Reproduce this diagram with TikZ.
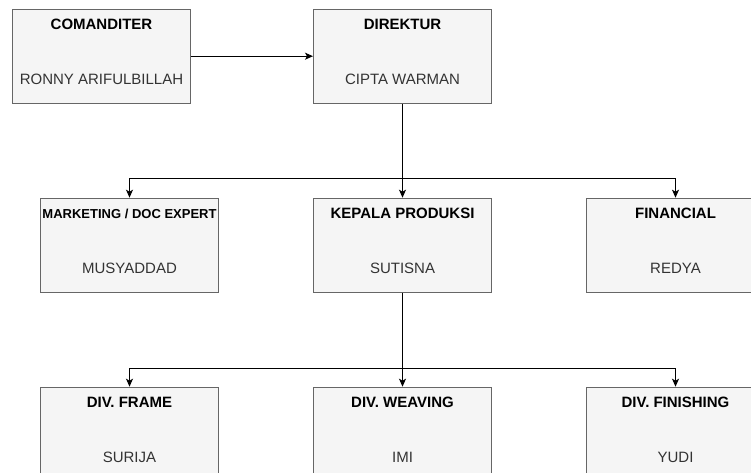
\documentclass[tikz,border=0pt]{standalone}
\usepackage{fontspec}
\setmainfont{Liberation Sans}
\usepackage{xcolor}
\usetikzlibrary{arrows.meta,positioning,calc}
\definecolor{boxfill}{HTML}{F5F5F5}
\definecolor{boxline}{HTML}{666666}
\definecolor{namegray}{HTML}{333333}
\tikzset{
    box/.style={
        draw=boxline,
        line width=1pt,
        fill=boxfill,
        align=center,
        inner sep=0pt,
        minimum height=94pt,
        minimum width=178pt,
        font=\fontsize{15pt}{17pt}\selectfont
    },
    flow/.style={-{Stealth[length=8pt,width=7pt,inset=2pt]}, line width=1pt}
}
\newcommand{\jabatan}[2]{\textbf{#1}\\[38pt]\textcolor{namegray}{#2}\rule[-8.6pt]{0pt}{8.6pt}}

\begin{document}
\begin{tikzpicture}[node distance=94pt and 94pt]
        \path[use as bounding box] (0,0) rectangle (751pt,-473pt);

        \node[box] (direktur) at (402.5pt,-56.2pt) {\jabatan{DIREKTUR}{CIPTA WARMAN}};
        \node[box, left=122pt of direktur] (comanditer) {\jabatan{COMANDITER}{RONNY ARIFULBILLAH}};
        \node[box, below=of direktur] (kepala) {\jabatan{KEPALA PRODUKSI}{SUTISNA}};
        \node[box, left=of kepala] (marketing) {\jabatan{\fontsize{13pt}{15pt}\selectfont MARKETING / DOC EXPERT}{MUSYADDAD}};
        \node[box, right=of kepala] (financial) {\jabatan{FINANCIAL}{REDYA}};
        \node[box, below=of kepala] (weaving) {\jabatan{DIV. WEAVING}{IMI}};
        \node[box, left=of weaving] (frame) {\jabatan{DIV. FRAME}{SURIJA}};
        \node[box, right=of weaving] (finishing) {\jabatan{DIV. FINISHING}{YUDI}};

        \coordinate (bus1) at ($(kepala.north)+(0,19pt)$);
        \coordinate (bus2) at ($(weaving.north)+(0,18.3pt)$);

        \draw[flow] (comanditer) -- (direktur);
        \draw[flow] (direktur) -- (kepala);
        \draw[flow] (bus1) -| (marketing.north);
        \draw[flow] (bus1) -| (financial.north);
        \draw[flow] (kepala) -- (weaving);
        \draw[flow] (bus2) -| (frame.north);
        \draw[flow] (bus2) -| (finishing.north);
    \end{tikzpicture}
\end{document}
